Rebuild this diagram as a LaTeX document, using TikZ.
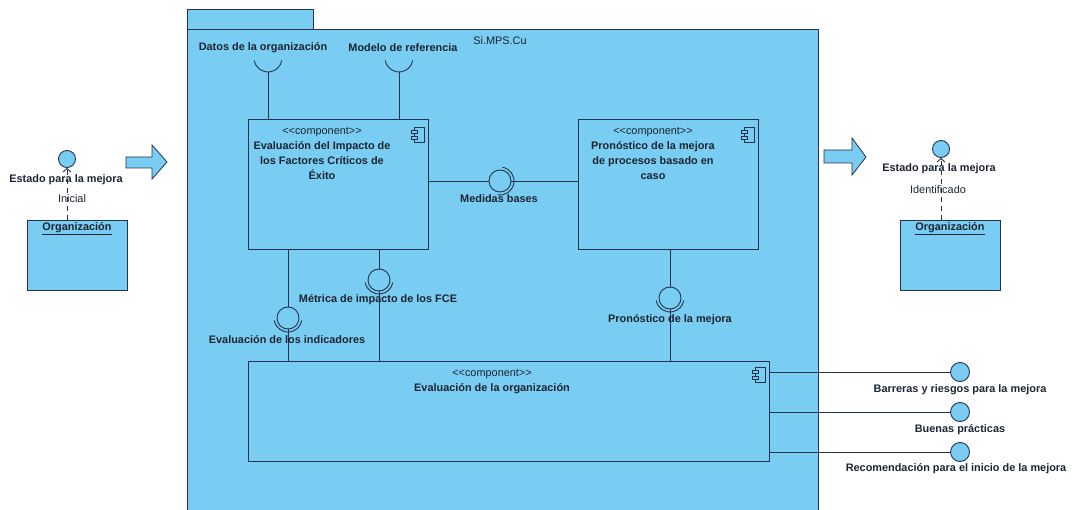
\documentclass[tikz,border=0pt]{standalone}
\usepackage{fontspec}
\newfontfamily\umlfont{Liberation Sans}
\usetikzlibrary{arrows.meta,calc}
\definecolor{umlfill}{RGB}{122,205,242}
\definecolor{umlline}{RGB}{36,50,76}
\definecolor{umltext}{RGB}{28,36,50}
\newcommand{\umlstereo}{<\kern0pt<component>\kern0pt>}
\begin{document}
\begin{tikzpicture}[x=1pt,y=-1pt,
  txt/.style={font=\umlfont\fontsize{10.9}{15}\selectfont, text=umltext, inner sep=0pt},
  lbl/.style={txt, font=\umlfont\bfseries\fontsize{10.9}{15}\selectfont},
  box/.style={draw=umlline, fill=umlfill, line width=0.9pt, inner sep=0pt, anchor=north west},
  ball/.style={circle, draw=umlline, fill=umlfill, line width=0.9pt, inner sep=0pt, minimum size=22pt},
  lolli/.style={circle, draw=umlline, fill=umlfill, line width=0.9pt, inner sep=0pt, minimum size=17pt},
  wire/.style={draw=umlline, line width=0.9pt},
  dep/.style={wire, dash pattern=on 5pt off 4pt, -{Straight Barb[length=3.5pt,width=8pt]}},
  fat/.style={draw=umlline, fill=umlfill, line width=0.8pt, line join=miter},
  compicon/.pic={
    \draw[umlline, fill=umlfill, line width=0.7pt] (-10,0) rectangle (0,15);
    \draw[umlline, fill=umlfill, line width=0.7pt] (-13,3) rectangle (-7,6);
    \draw[umlline, fill=umlfill, line width=0.7pt] (-13,9) rectangle (-7,12);
  }
]
\useasboundingbox (0,0) rectangle (1073,510);

% package
\node[box, minimum width=126pt, minimum height=20pt] (tab) at (187,9) {};
\node[box, minimum width=631pt, minimum height=486pt] (pkg) at (187,29) {};
\node[txt] (pkgname) at (500,41) {Si.MPS.Cu};

% components
\node[box, minimum width=180pt, minimum height=130pt] (c1) at (248,119) {};
\node[box, minimum width=180pt, minimum height=130pt] (c2) at (578,119) {};
\node[box, minimum width=521pt, minimum height=100pt] (c3) at (248,361) {};
\pic at ($(c1.north east)+(-5,8)$) {compicon};
\pic at ($(c2.north east)+(-5,8)$) {compicon};
\pic at ($(c3.north east)+(-5,6)$) {compicon};

\node[txt, anchor=north, align=center] (c1t) at (322,127.5)
  {\umlstereo\\\textbf{Evaluación del Impacto de}\\\textbf{los Factores Críticos de}\\\textbf{Éxito}};
\node[txt, anchor=north, align=center] (c2t) at (653,127.5)
  {\umlstereo\\\textbf{Pronóstico de la mejora}\\\textbf{de procesos basado en}\\\textbf{caso}};
\node[txt, anchor=north, align=center] (c3t) at (492,369)
  {\umlstereo\\\textbf{Evaluación de la organización}};

% required interfaces at top
\coordinate (s1) at (268,58);
\coordinate (s2) at (399,58);
\draw[wire] (c1.north -| s1) -- ($(s1)+(0,14)$);
\draw[wire] (c1.north -| s2) -- ($(s2)+(0,14)$);
\draw[wire] ($(s1)+(190:14pt)$) arc[start angle=190, end angle=350, radius=14pt];
\draw[wire] ($(s2)+(190:14pt)$) arc[start angle=190, end angle=350, radius=14pt];
\node[lbl] (s1l) at (263,48) {Datos de la organización};
\node[lbl] (s2l) at (403,48) {Modelo de referencia};

% Medidas bases
\node[ball] (mb) at (500,181) {};
\draw[wire] (c1.east |- mb) -- (mb.west);
\draw[wire] (mb.east) -- (c2.west |- mb);
\draw[wire] ($(mb)+(80:14pt)$) arc[start angle=80, end angle=-100, radius=14pt];
\node[lbl] (mbl) at (499,199) {Medidas bases};

% vertical assemblies
\node[ball] (ei) at (288,318) {};
\node[ball] (mi) at (379,280) {};
\node[ball] (pm) at (670,298) {};
\draw[wire] (c1.south -| ei) -- (ei.north);
\draw[wire] (ei.south) -- (c3.north -| ei);
\draw[wire] (c1.south -| mi) -- (mi.north);
\draw[wire] (mi.south) -- (c3.north -| mi);
\draw[wire] (c2.south -| pm) -- (pm.north);
\draw[wire] (pm.south) -- (c3.north -| pm);
\draw[wire] ($(ei)+(190:14pt)$) arc[start angle=190, end angle=350, radius=14pt];
\draw[wire] ($(mi)+(190:14pt)$) arc[start angle=190, end angle=350, radius=14pt];
\draw[wire] ($(pm)+(190:14pt)$) arc[start angle=190, end angle=350, radius=14pt];
\node[lbl] (eil) at (287,340) {Evaluación de los indicadores};
\node[lbl] (mil) at (378,300) {Métrica de impacto de los FCE};
\node[lbl] (pml) at (670,320) {Pronóstico de la mejora};

% provided interfaces on the right
\node[lolli, minimum size=19pt] (b1) at (960,372) {};
\node[lolli, minimum size=19pt] (b2) at (960,412) {};
\node[lolli, minimum size=19pt] (b3) at (960,452) {};
\draw[wire] (c3.east |- b1) -- (b1.west);
\draw[wire] (c3.east |- b2) -- (b2.west);
\draw[wire] (c3.east |- b3) -- (b3.west);
\node[lbl] (b1l) at (960,390) {Barreras y riesgos para la mejora};
\node[lbl] (b2l) at (960,430) {Buenas prácticas};
\node[lbl] (b3l) at (956,469) {Recomendación para el inicio de la mejora};

% left organisation
\node[box, minimum width=100pt, minimum height=70pt] (o1) at (27,220) {};
\node[lbl] (o1t) at (77,229) {\underline{Organización}};
\node[lolli] (lo1) at (67,159) {};
\draw[dep] (o1.north -| lo1) -- (lo1.south);
\node[lbl] (lo1l) at (66,180) {Estado para la mejora};
\node[txt] (lo1s) at (72,199) {Inicial};

% right organisation
\node[box, minimum width=100pt, minimum height=70pt] (o2) at (900,220) {};
\node[lbl] (o2t) at (950,229) {\underline{Organización}};
\node[lolli] (lo2) at (941,149) {};
\draw[dep] (o2.north -| lo2) -- (lo2.south);
\node[lbl] (lo2l) at (939,169) {Estado para la mejora};
\node[txt] (lo2s) at (938,190) {Identificado};

% fat arrows
\draw[fat] (126,157) -- (152,157) -- (152,145) -- (167,162) -- (152,179) -- (152,168) -- (126,168) -- cycle;
\draw[fat] (824,150) -- (852,150) -- (852,138) -- (866,157) -- (852,175) -- (852,163) -- (824,163) -- cycle;
\end{tikzpicture}
\end{document}
